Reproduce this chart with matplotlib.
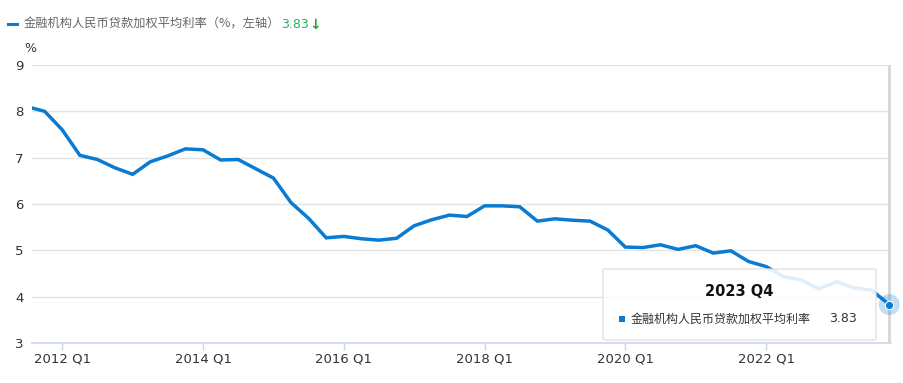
import matplotlib
matplotlib.use("Agg")
import matplotlib.pyplot as plt
from matplotlib.patches import FancyBboxPatch, Rectangle
import numpy as np

plt.rcParams['font.family'] = ['Noto Sans CJK SC', 'DejaVu Sans']

# Quarterly data, 2011 Q3 .. 2023 Q4
start_year, start_q = 2011, 3
rates = [8.10, 8.00, 7.60, 7.05, 6.96, 6.78, 6.64, 6.91, 7.04, 7.19,
         7.17, 6.95, 6.96, 6.76, 6.56, 6.03, 5.69, 5.27, 5.30, 5.25,
         5.22, 5.26, 5.53, 5.66, 5.76, 5.73, 5.96, 5.96, 5.94, 5.63,
         5.68, 5.65, 5.63, 5.44, 5.07, 5.06, 5.12, 5.02, 5.10, 4.94,
         4.99, 4.76, 4.65, 4.43, 4.36, 4.17, 4.32, 4.19, 4.14, 3.83]
series_name = "金融机构人民币贷款加权平均利率"
tick_labels = ["2012 Q1", "2014 Q1", "2016 Q1", "2018 Q1", "2020 Q1", "2022 Q1"]
y_ticks = [3, 4, 5, 6, 7, 8, 9]

n = len(rates)
# x in quarter index relative to 2012 Q1
x0 = (start_year - 2012) * 4 + (start_q - 1)
xs = np.arange(n) + x0
tick_pos = [(int(t[:4]) - 2012) * 4 for t in tick_labels]

W, H = 904, 383
fig = plt.figure(figsize=(W / 100, H / 100), dpi=100)
L, R, T, B = 32, 891, 65, 343
ax = fig.add_axes([L / W, 1 - B / H, (R - L) / W, (B - T) / H])

blue = '#0a7bd3'
ax.plot(xs, rates, color=blue, lw=2.5, solid_joinstyle='miter', zorder=3, clip_on=True)

ax.set_xlim(-1.72, xs[-1] + 0.1)
ax.set_ylim(3, 9)
ax.set_yticks(y_ticks)
ax.set_yticklabels([str(v) for v in y_ticks], fontsize=9.5, color='#333333')
ax.set_xticks(tick_pos)
ax.set_xticklabels(tick_labels, fontsize=9.5, color='#333333')
ax.tick_params(axis='y', length=0, pad=6)
ax.tick_params(axis='x', length=5, color='#ccd6eb', width=1, pad=2)
for lab in ax.get_yticklabels():
    lab.set_family(['DejaVu Sans'])
for lab in ax.get_xticklabels():
    lab.set_family(['DejaVu Sans'])
ax.grid(axis='y', color='#e3e3e3', lw=1)
ax.set_axisbelow(True)
for s in ['top', 'right', 'left']:
    ax.spines[s].set_visible(False)
ax.spines['bottom'].set_color('#ccd6eb')
ax.spines['bottom'].set_linewidth(1.2)

# crosshair at last point
ax.axvline(xs[-1], color='#d6d6d6', lw=2, zorder=2)

def fx(px):
    return px / W

def fy(py):
    return 1 - py / H

# tooltip box
box = FancyBboxPatch((fx(603), fy(340)), fx(876) - fx(603), fy(269) - fy(340),
                     boxstyle='round,pad=0,rounding_size=0.004',
                     transform=fig.transFigure, facecolor='white', alpha=0.88,
                     edgecolor='#dddddd', lw=1, zorder=5)
fig.patches.append(box)
fig.text(fx(739), fy(292), "2023 Q4", ha='center', va='center', fontsize=10.5,
         fontweight='bold', color='#111111', family=['DejaVu Sans'], zorder=6)
fig.patches.append(Rectangle((fx(619), fy(322)), fx(625) - fx(619), fy(316) - fy(322),
                             transform=fig.transFigure, facecolor=blue, edgecolor='none', zorder=6))
fig.text(fx(631), fy(319), series_name, ha='left', va='center', fontsize=8.65,
         color='#333333', zorder=6)
fig.text(fx(857), fy(319), f"{rates[-1]:.2f}", ha='right', va='center', fontsize=9,
         color='#333333', family=['DejaVu Sans'], zorder=6)

# highlighted last point
ax.scatter([xs[-1]], [rates[-1]], s=230, color=blue, alpha=0.25, edgecolors='none',
           zorder=7, clip_on=False)
ax.scatter([xs[-1]], [rates[-1]], s=36, color=blue, edgecolors='white', linewidths=0.8,
           zorder=8, clip_on=False)

# header legend
fig.add_artist(plt.Line2D([fx(8), fx(17)], [fy(24), fy(24)], color=blue, lw=2.2,
                          transform=fig.transFigure))
fig.text(fx(24), fy(24), series_name + "（%，左轴）", ha='left', va='center',
         fontsize=8.8, color='#666666')
fig.text(fx(281), fy(24), f"{rates[-1]:.2f}", ha='left', va='center', fontsize=9,
         color='#21b25a', family=['DejaVu Sans'])
fig.text(fx(309), fy(25), "↓", ha='left', va='center', fontsize=10,
         color='#2f9e3a', family=['DejaVu Sans'], fontweight='bold')
fig.text(fx(24), fy(49), "%", ha='left', va='center', fontsize=9,
         color='#333333', family=['DejaVu Sans'])

fig.savefig('out.png', dpi=100, facecolor='white')
